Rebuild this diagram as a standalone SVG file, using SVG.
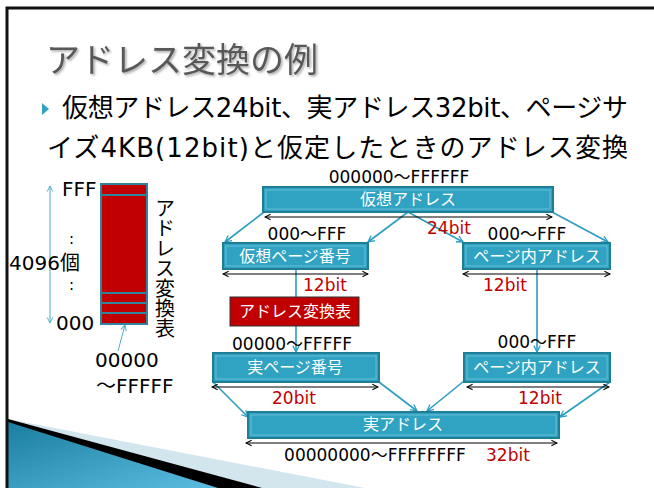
<svg xmlns="http://www.w3.org/2000/svg" width="654" height="488" viewBox="0 0 654 488">
<defs>
<style>
text{font-family:"DejaVu Sans","Noto Sans CJK JP",sans-serif}
.jp{font-family:"Noto Sans CJK JP","Noto Sans",sans-serif}
.box{fill:#31a3c2;stroke:#1f7e96;stroke-width:2}
.inr{fill:none;stroke:#66bdd4;stroke-width:1}
.cell{fill:#c00000;stroke:#31849b;stroke-width:2}
.wt{fill:#fff;font-size:16px;text-anchor:middle;font-family:"Noto Sans CJK JP",sans-serif}
.bk{fill:#000;font-size:17px}
.lf{fill:#000;font-size:20px}
.rd{fill:#c00000;font-size:17px}
.con{stroke:#2c9dc0;stroke-width:1.6;fill:none;marker-end:url(#ah)}
.dim{stroke:#000;stroke-width:1;fill:none;marker-start:url(#dh);marker-end:url(#dh)}
.dimb{stroke:#4bacc6;stroke-width:1;fill:none;marker-start:url(#bh);marker-end:url(#bh)}
</style>
<marker id="ah" viewBox="0 0 10 10" refX="9" refY="5" markerWidth="8" markerHeight="8" markerUnits="userSpaceOnUse" orient="auto"><path d="M1,1 L9,5 L1,9" fill="none" stroke="#2c9dc0" stroke-width="1.6"/></marker>
<marker id="dh" viewBox="0 0 10 10" refX="9" refY="5" markerWidth="8" markerHeight="8" markerUnits="userSpaceOnUse" orient="auto-start-reverse"><path d="M2,1.5 L9,5 L2,8.5" fill="none" stroke="#000" stroke-width="1.3"/></marker>
<marker id="bh" viewBox="0 0 10 10" refX="9" refY="5" markerWidth="8" markerHeight="8" markerUnits="userSpaceOnUse" orient="auto-start-reverse"><path d="M2,1.5 L9,5 L2,8.5" fill="none" stroke="#4bacc6" stroke-width="1.2"/></marker>
<linearGradient id="bg" x1="0" y1="0" x2="1" y2="1">
<stop offset="0" stop-color="#1a7e9f"/><stop offset="1" stop-color="#5cbde0"/>
</linearGradient>
<filter id="sh" x="-5%" y="-5%" width="110%" height="120%">
<feDropShadow dx="1.5" dy="1.5" stdDeviation="1" flood-color="#000" flood-opacity="0.35"/>
</filter>
</defs>
<rect width="654" height="488" fill="#fff"/>
<g id="frame">
<polygon points="8,419 365,488 8,488" fill="#d3e6ee"/>
<polygon points="8,419 262,488 8,488" fill="#000"/>
<polygon points="8,422 218,488 8,488" fill="url(#bg)"/>
<path d="M7,488 V8 H654" fill="none" stroke="#111" stroke-width="3"/>
</g>
<g id="title">
<text class="jp" x="46" y="72" font-size="34" fill="#595959" filter="url(#sh)">アドレス変換の例</text>
</g>
<g id="bullet">
<polygon points="42,103 49,109 42,115" fill="#31a3c2"/>
<text x="62" y="117" font-size="26" fill="#000" textLength="566">仮想アドレス24bit、実アドレス32bit、ページサ</text>
<text x="47" y="157" font-size="26" fill="#000" textLength="581">イズ4KB(12bit)と仮定したときのアドレス変換</text>
</g>
<g id="table">
<line class="dimb" x1="50" y1="186" x2="50" y2="323"/>
<text class="lf" x="62" y="196">FFF</text>
<text class="lf"><tspan x="69" y="244" font-size="15">:</tspan><tspan x="9" y="270">4096個</tspan><tspan x="69" y="290" font-size="15">:</tspan></text>
<text class="lf" x="56" y="330">000</text>
<rect class="cell" x="101" y="184" width="46" height="11"/>
<rect class="cell" x="101" y="195" width="46" height="98"/>
<rect class="cell" x="101" y="293" width="46" height="10"/>
<rect class="cell" x="101" y="303" width="46" height="10"/>
<rect class="cell" x="101" y="313" width="46" height="11"/>
<text class="jp" x="165" y="198" font-size="20" fill="#000" style="writing-mode:vertical-rl" writing-mode="tb">アドレス変換表</text>
<line x1="118" y1="351" x2="125" y2="325" stroke="#4bacc6" stroke-width="1" marker-end="url(#bh)"/>
<text class="lf" x="95" y="367">00000</text>
<text class="lf" x="96" y="393">～FFFFF</text>
</g>
<g id="connectors">
<line class="con" x1="264" y1="212" x2="225" y2="242"/>
<line class="con" x1="408" y1="212" x2="368" y2="242"/>
<line class="con" x1="408" y1="212" x2="463" y2="242"/>
<line class="con" x1="552" y1="212" x2="608" y2="242"/>
<line class="con" x1="296" y1="269" x2="296" y2="352"/>
<line class="con" x1="537" y1="269" x2="537" y2="352"/>
<line class="con" x1="213" y1="382" x2="248" y2="417"/>
<line class="con" x1="379" y1="382" x2="417" y2="411"/>
<line class="con" x1="464" y1="381" x2="427" y2="411"/>
<line class="con" x1="610" y1="382" x2="560" y2="417"/>
<line class="dim" x1="265" y1="217" x2="552" y2="217"/>
<line class="dim" x1="223" y1="274" x2="368" y2="274"/>
<line class="dim" x1="463" y1="274" x2="610" y2="274"/>
<line class="dim" x1="212" y1="387" x2="378" y2="387"/>
<line class="dim" x1="467" y1="387" x2="609" y2="387"/>
<line class="dim" x1="246" y1="443" x2="557" y2="443"/>
</g>
<g id="vaddr">
<text class="bk" x="399" y="183" text-anchor="middle">000000～FFFFFF</text>
<rect class="box" x="263" y="187" width="290" height="25"/>
<rect class="inr" x="266" y="190" width="284" height="19"/>
<text class="wt" x="408" y="205">仮想アドレス</text>
<text class="rd" x="427" y="234">24bit</text>
</g>
<g id="vpage">
<text class="bk" x="307" y="240" text-anchor="middle">000～FFF</text>
<rect class="box" x="223" y="243" width="145" height="26"/>
<rect class="inr" x="226" y="246" width="139" height="20"/>
<text class="wt" x="295" y="262">仮想ページ番号</text>
<text class="rd" x="303" y="291">12bit</text>
</g>
<g id="voffset">
<text class="bk" x="527" y="240" text-anchor="middle">000～FFF</text>
<rect class="box" x="463" y="243" width="147" height="26"/>
<rect class="inr" x="466" y="246" width="141" height="20"/>
<text class="wt" x="537" y="262">ページ内アドレス</text>
<text class="rd" x="483" y="291">12bit</text>
</g>
<g id="ttable">
<rect x="230" y="297" width="129" height="29" fill="#c00000" stroke="#333" stroke-width="1"/>
<text class="wt" x="295" y="317">アドレス変換表</text>
</g>
<g id="rpage">
<text class="bk" x="292" y="350" text-anchor="middle">00000～FFFFF</text>
<rect class="box" x="213" y="353" width="166" height="29"/>
<rect class="inr" x="216" y="356" width="160" height="23"/>
<text class="wt" x="295" y="373">実ページ番号</text>
<text class="rd" x="272" y="404">20bit</text>
</g>
<g id="roffset">
<text class="bk" x="537" y="348" text-anchor="middle">000～FFF</text>
<rect class="box" x="464" y="353" width="146" height="29"/>
<rect class="inr" x="467" y="356" width="140" height="23"/>
<text class="wt" x="537" y="373">ページ内アドレス</text>
<text class="rd" x="518" y="404">12bit</text>
</g>
<g id="raddr">
<rect class="box" x="248" y="412" width="311" height="26"/>
<rect class="inr" x="251" y="415" width="305" height="20"/>
<text class="wt" x="403" y="430">実アドレス</text>
<text class="bk" x="375" y="461" text-anchor="middle">00000000～FFFFFFFF</text>
<text class="rd" x="486" y="461">32bit</text>
</g>
</svg>
